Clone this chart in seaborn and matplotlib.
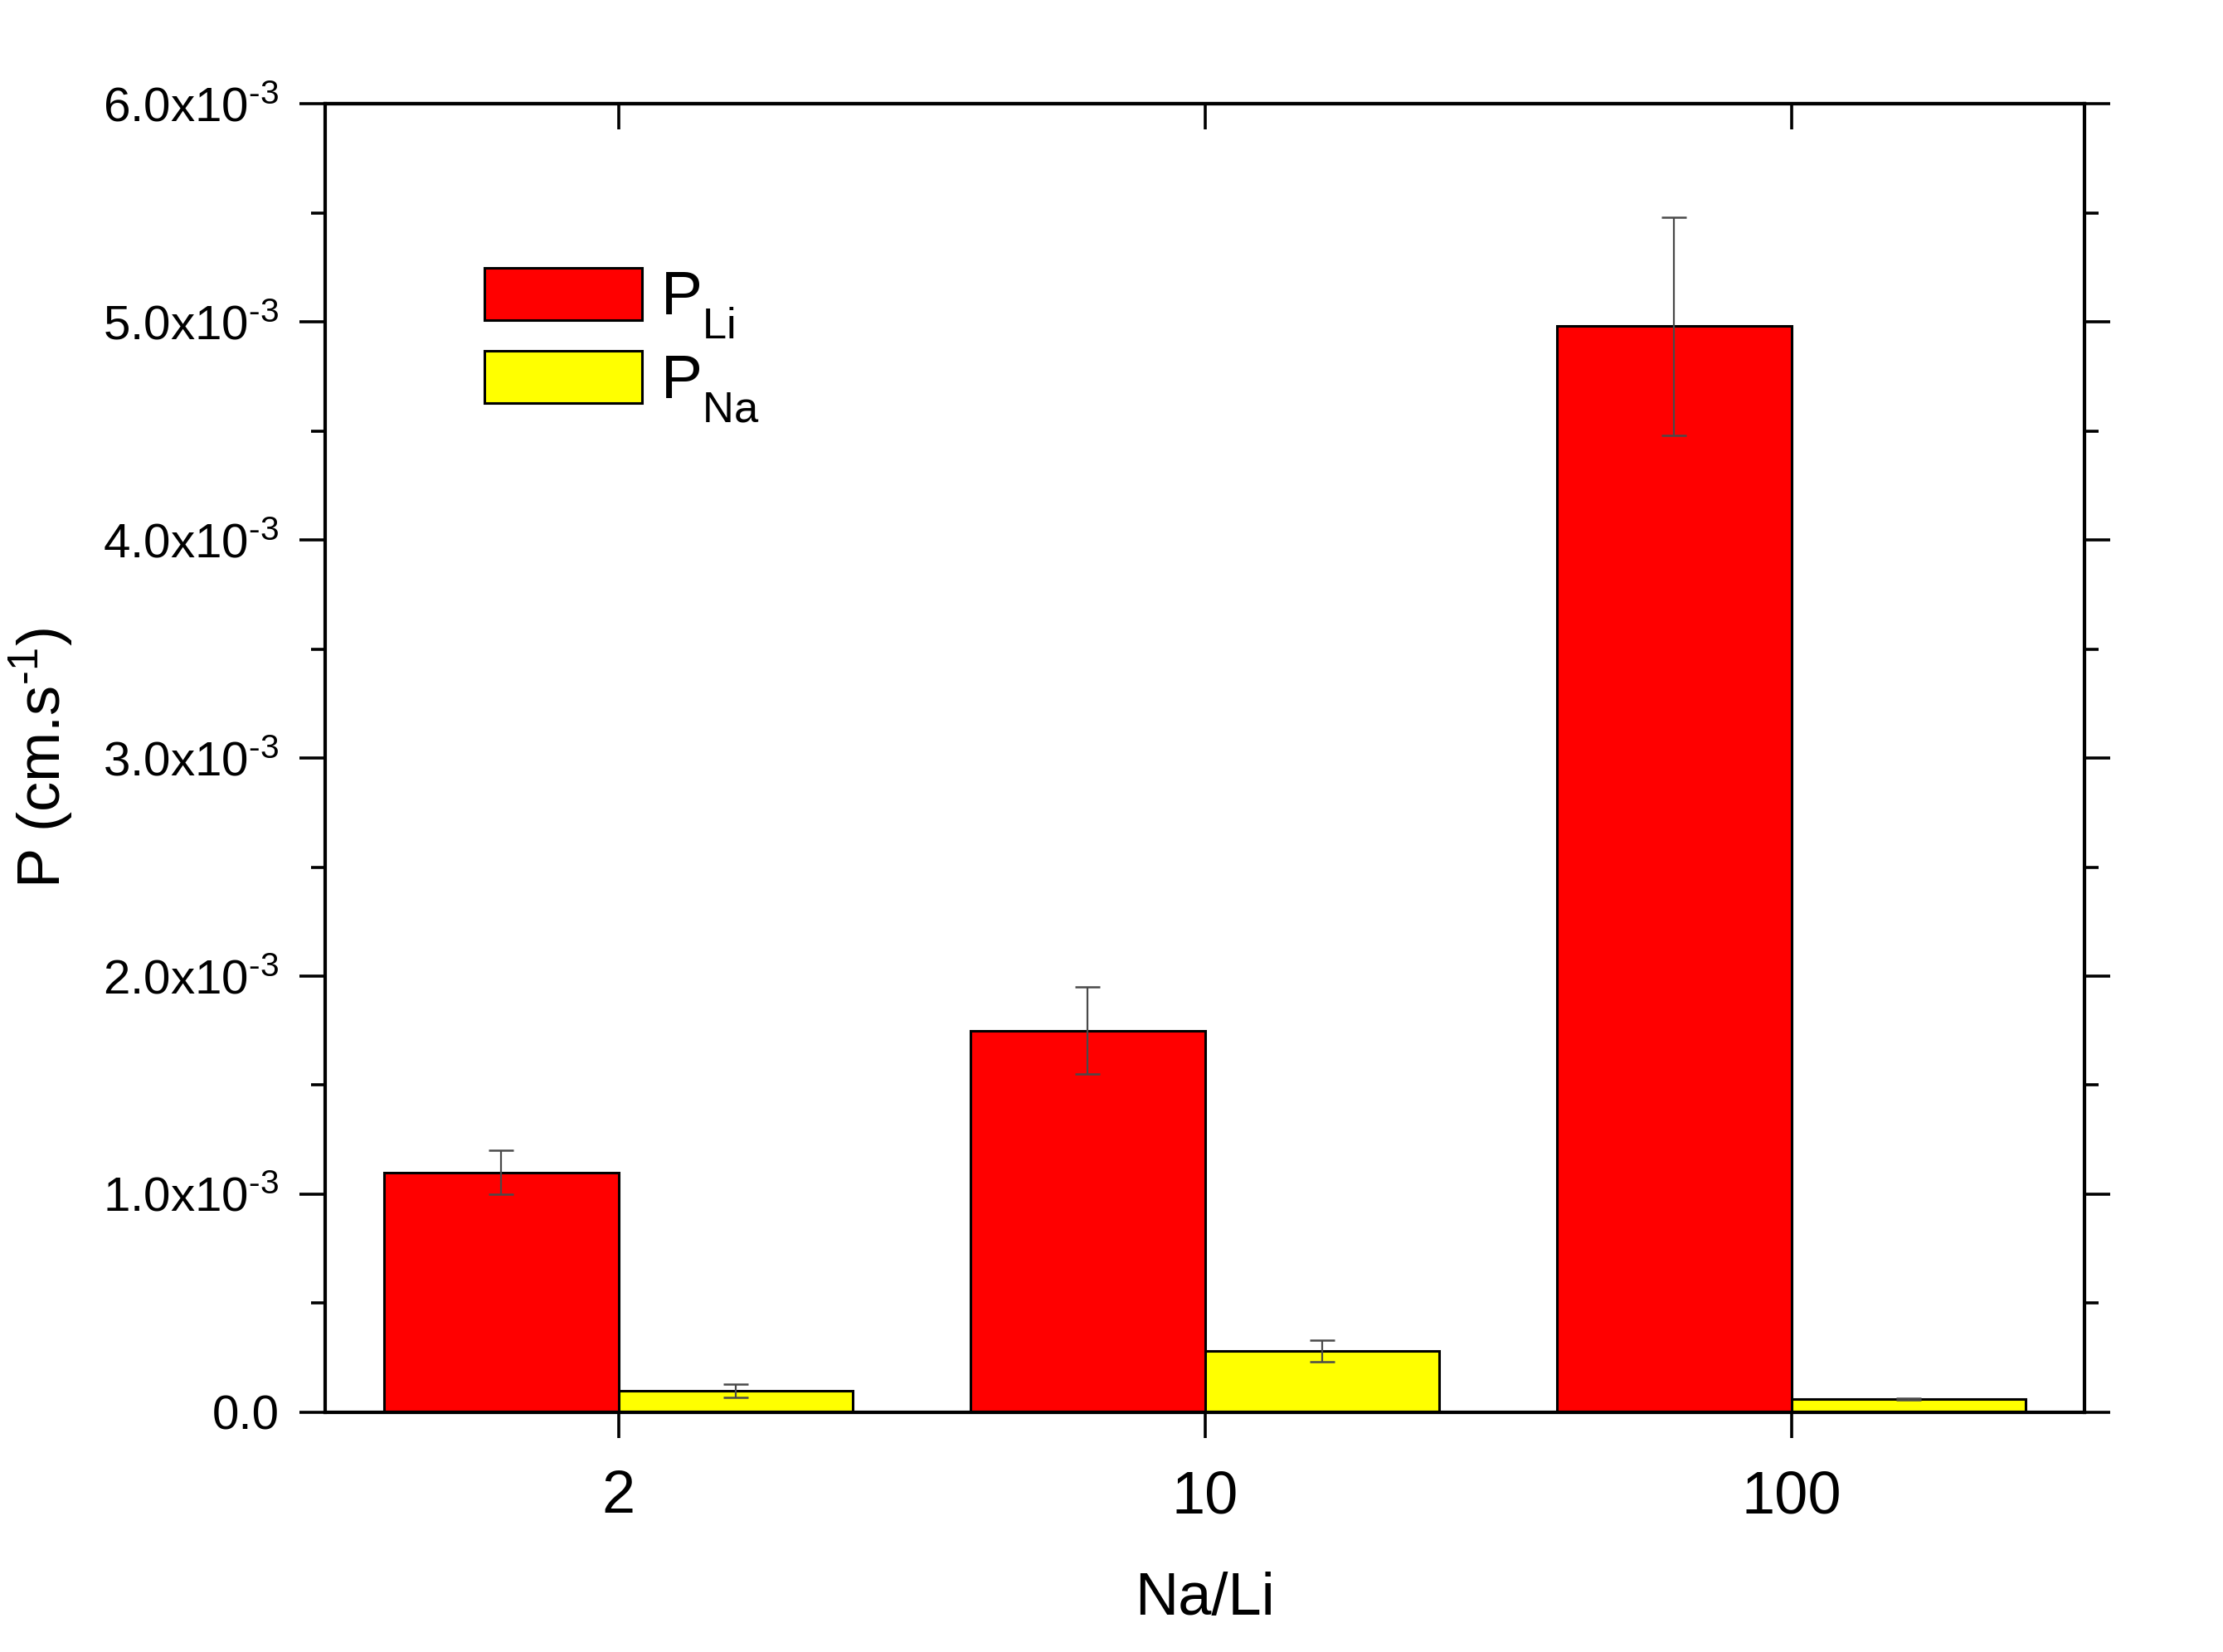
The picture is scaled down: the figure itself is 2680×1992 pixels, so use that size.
import matplotlib
matplotlib.use("Agg")
import matplotlib.pyplot as plt
import matplotlib.ticker as mticker
import numpy as np
import pandas as pd
import seaborn as sns

# ---- data ----
ratios = ["2", "10", "100"]
p_li = [1.10e-3, 1.75e-3, 4.98e-3]
p_li_err = [0.10e-3, 0.20e-3, 0.50e-3]
p_na = [0.10e-3, 0.28e-3, 0.06e-3]
p_na_err = [0.03e-3, 0.05e-3, 0.005e-3]
series_labels = [r"P$_{\mathrm{Li}}$", r"P$_{\mathrm{Na}}$"]
series_colors = ["#FF0000", "#FFFF00"]
y_ticks = [0.0, 1e-3, 2e-3, 3e-3, 4e-3, 5e-3, 6e-3]

sns.set_theme(style="white")
plt.rcParams["font.family"] = ["Liberation Sans", "DejaVu Sans"]
plt.rcParams["mathtext.fontset"] = "custom"
plt.rcParams["mathtext.rm"] = "Liberation Sans"
plt.rcParams["mathtext.it"] = "Liberation Sans:italic"
plt.rcParams["mathtext.bf"] = "Liberation Sans:bold"
for k in ["text.color", "axes.labelcolor", "xtick.color", "ytick.color", "axes.edgecolor"]:
    plt.rcParams[k] = "black"

# push mathtext subscripts lower (legend labels, as in the reference)
try:
    from matplotlib import _mathtext
    _mathtext.FontConstantsBase.sub1 = 0.75
except Exception:
    pass

HY = "\u2010"  # short hyphen used in the exponents

df = pd.DataFrame({
    "ratio": ratios * 2,
    "value": p_li + p_na,
    "err": p_li_err + p_na_err,
    "series": [series_labels[0]] * 3 + [series_labels[1]] * 3,
})

fig = plt.figure(figsize=(13.4, 9.96), dpi=200)
ax = fig.add_axes([0.1463, 0.1451, 0.7914, 0.7921])

sns.barplot(data=df, x="ratio", y="value", hue="series", order=ratios,
            hue_order=series_labels, palette=series_colors, width=0.8,
            errorbar=None, edgecolor="black", linewidth=1.1, saturation=1,
            ax=ax)

# error bars at the bar centres produced by seaborn
for cont, lab in zip(ax.containers, series_labels):
    sub = df[df["series"] == lab].set_index("ratio").loc[ratios]
    xs = [p.get_x() + p.get_width() / 2 for p in cont.patches]
    ys = [p.get_height() for p in cont.patches]
    ax.errorbar(xs, ys, yerr=sub["err"].values, fmt="none", ecolor="#4a4a4a",
                elinewidth=0.8, capsize=5.5, capthick=0.9, zorder=5)

ax.set_xlim(-0.5, 2.5)
ax.set_ylim(0, 6e-3)
ax.set_yticks(y_ticks)
ax.yaxis.set_minor_locator(mticker.MultipleLocator(0.5e-3))

def fmt(v, pos):
    if abs(v) < 1e-12:
        return "0.0"
    return r"%.1fx10$^{\mathrm{%s3}}$" % (v * 1e3, HY)

ax.yaxis.set_major_formatter(mticker.FuncFormatter(fmt))

for s in ax.spines.values():
    s.set_visible(True)
    s.set_linewidth(1.5)
    s.set_color("black")

ax.tick_params(axis="y", which="major", direction="out", length=11, width=1.3,
               left=True, right=True, labelsize=21, pad=9, color="black",
               labelcolor="black")
ax.tick_params(axis="y", which="minor", direction="out", length=6, width=1.3,
               left=True, right=True, color="black")
ax.tick_params(axis="x", which="major", direction="out", length=11, width=1.3,
               bottom=True, top=False, labelsize=26, pad=14, color="black",
               labelcolor="black")

secx = ax.secondary_xaxis("top")
secx.set_xticks([0, 1, 2])
secx.set_xticklabels([])
secx.tick_params(direction="in", length=11, width=1.3, color="black")
secx.spines["top"].set_linewidth(1.5)

ax.set_xlabel("Na/Li", fontsize=26, labelpad=20, color="black")
ax.set_ylabel(r"P (cm.s$^{\mathrm{%s1}}$)" % HY, fontsize=26, labelpad=12,
              color="black")

leg = ax.legend(loc="upper left", bbox_to_anchor=(0.2179, 0.838),
                bbox_transform=fig.transFigure, frameon=False, fontsize=27,
                handlelength=2.53, handleheight=0.92, handletextpad=0.3,
                labelspacing=0.15, borderpad=0, borderaxespad=0)
for h in leg.legend_handles:
    h.set_edgecolor("black")
    h.set_linewidth(1.1)
for t in leg.get_texts():
    t.set_color("black")

fig.savefig("out.png", dpi=200, facecolor="white")
